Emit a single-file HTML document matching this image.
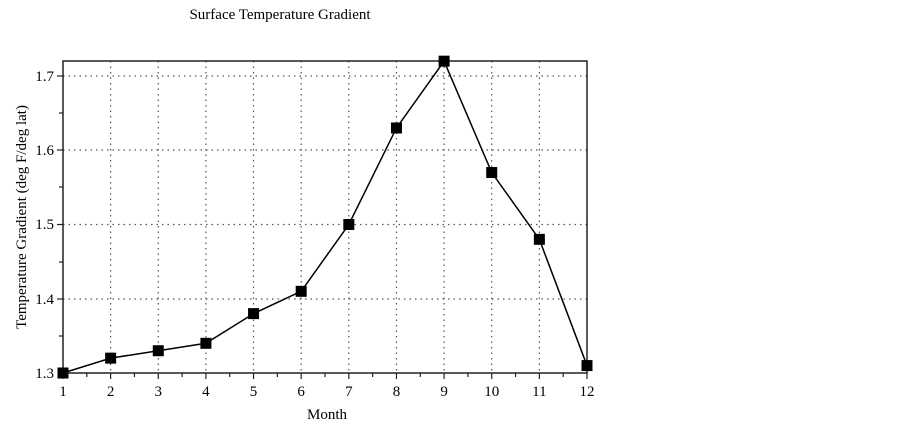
<!DOCTYPE html><html><head><style>body{margin:0;background:#fff}svg{display:block}text{font-family:"Liberation Serif",serif;fill:#000}</style></head><body>
<svg width="903" height="428" viewBox="0 0 903 428" xmlns="http://www.w3.org/2000/svg">
<text x="280" y="19" font-size="15" text-anchor="middle">Surface Temperature Gradient</text>
<g stroke="#555" stroke-width="1.2" stroke-dasharray="1.5,4">
<line x1="63" y1="76" x2="587" y2="76"/><line x1="63" y1="150" x2="587" y2="150"/><line x1="63" y1="224.5" x2="587" y2="224.5"/><line x1="63" y1="299" x2="587" y2="299"/>
<line x1="110.6" y1="61" x2="110.6" y2="373"/><line x1="158.3" y1="61" x2="158.3" y2="373"/><line x1="205.9" y1="61" x2="205.9" y2="373"/><line x1="253.5" y1="61" x2="253.5" y2="373"/><line x1="301.2" y1="61" x2="301.2" y2="373"/><line x1="348.8" y1="61" x2="348.8" y2="373"/><line x1="396.5" y1="61" x2="396.5" y2="373"/><line x1="444.1" y1="61" x2="444.1" y2="373"/><line x1="491.7" y1="61" x2="491.7" y2="373"/><line x1="539.4" y1="61" x2="539.4" y2="373"/>
</g>
<rect x="63" y="61" width="524" height="312" fill="none" stroke="#222" stroke-width="1.5"/>
<g stroke="#222" stroke-width="1.2">
<line x1="57" y1="76" x2="63" y2="76"/><line x1="57" y1="150" x2="63" y2="150"/><line x1="57" y1="224.5" x2="63" y2="224.5"/><line x1="57" y1="299" x2="63" y2="299"/>
<line x1="59" y1="113" x2="63" y2="113"/><line x1="59" y1="187" x2="63" y2="187"/><line x1="59" y1="262" x2="63" y2="262"/><line x1="59" y1="336" x2="63" y2="336"/>
</g>
<g stroke="#222" stroke-width="1.2" id="xt"></g>
<g font-size="15" text-anchor="end">
<text x="54" y="81">1.7</text><text x="54" y="155">1.6</text><text x="54" y="229">1.5</text><text x="54" y="304">1.4</text><text x="54" y="378">1.3</text>
</g>
<g font-size="15" text-anchor="middle" id="xl"></g>
<text x="327" y="419" font-size="15" text-anchor="middle">Month</text>
<text transform="translate(26,217) rotate(-90)" font-size="15" text-anchor="middle">Temperature Gradient (deg F/deg lat)</text>
<polyline id="ln" fill="none" stroke="#000" stroke-width="1.5"/>
<g id="mk"></g>
</svg>
<script>
var v=[1.30,1.32,1.33,1.34,1.38,1.41,1.50,1.63,1.72,1.57,1.48,1.31];
var ns="http://www.w3.org/2000/svg";
function X(m){return 63+(m-1)*524/11}function Y(t){return 373-(t-1.3)*742.5}
var p=[],mk=document.getElementById('mk'),xt=document.getElementById('xt'),xl=document.getElementById('xl');
for(var i=0;i<12;i++){var x=X(i+1),y=Y(v[i]);p.push(x+','+y);
var r=document.createElementNS(ns,'rect');r.setAttribute('x',x-5.5);r.setAttribute('y',y-5.5);r.setAttribute('width',11);r.setAttribute('height',11);mk.appendChild(r);
var l=document.createElementNS(ns,'line');l.setAttribute('x1',x);l.setAttribute('x2',x);l.setAttribute('y1',373);l.setAttribute('y2',379);xt.appendChild(l);
if(i<11){l=document.createElementNS(ns,'line');var h=x+524/22;l.setAttribute('x1',h);l.setAttribute('x2',h);l.setAttribute('y1',373);l.setAttribute('y2',377);xt.appendChild(l);}
var t=document.createElementNS(ns,'text');t.setAttribute('x',x);t.setAttribute('y',396);t.textContent=i+1;xl.appendChild(t);}
document.getElementById('ln').setAttribute('points',p.join(' '));
</script>
</body></html>
